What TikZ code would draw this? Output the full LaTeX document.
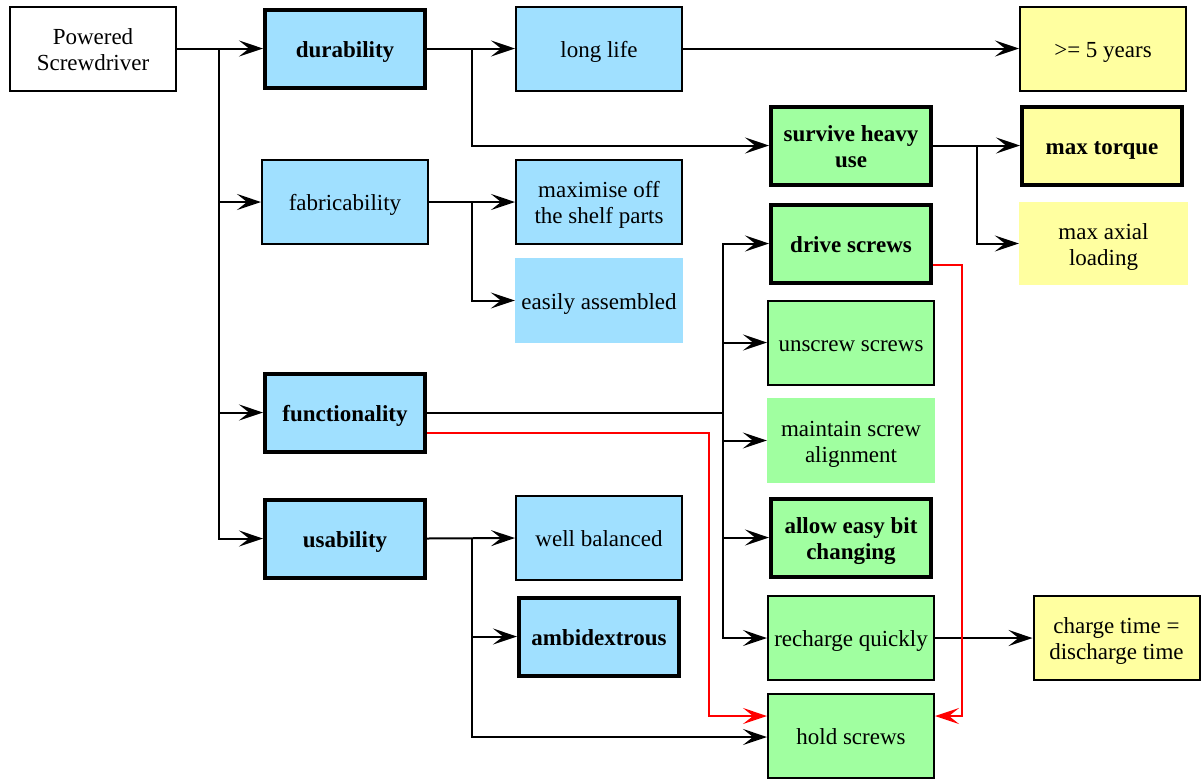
\documentclass[tikz,border=0pt]{standalone}
\usepackage{fontspec}
\setmainfont{Liberation Serif}
\usetikzlibrary{arrows.meta}
\definecolor{cblue}{RGB}{160,224,255}
\definecolor{cgreen}{RGB}{160,255,160}
\definecolor{cyellow}{RGB}{255,255,160}
\newcommand\tx[1]{\raisebox{-3.5pt}[\height][\depth]{\begin{tabular}{@{}c@{}}#1\end{tabular}}}
\begin{document}
\begin{tikzpicture}[x=1pt,y=-1pt,
  base/.style={rectangle, inner sep=2pt, font=\fontsize{23}{26}\selectfont},
  thinbox/.style={base, draw, line width=2pt, minimum width=166pt, minimum height=84pt},
  thickbox/.style={base, draw, line width=4pt, minimum width=160pt, minimum height=78pt, font=\bfseries\fontsize{23}{26}\selectfont},
  nobox/.style={base, minimum width=168pt, minimum height=85pt},
  bl/.style={fill=cblue}, gr/.style={fill=cgreen}, ye/.style={fill=cyellow},
  conn/.style={line width=2pt, -{Stealth[length=24pt,width=16pt,inset=10pt]}},
  link/.style={line width=2pt},
  rconn/.style={conn, red}
]
\useasboundingbox (0,0) rectangle (1201,780);
\node[thinbox, fill=white] (ps) at (93,49) {\tx{Powered\\Screwdriver}};
\node[thickbox, bl] (dur) at (345,48.5) {\tx{durability}};
\node[thinbox, bl] (ll) at (599,48.5) {\tx{long life}};
\node[thinbox, ye] (five) at (1103,48.5) {\tx{>= 5 years}};
\node[thickbox, gr] (shu) at (851,145.5) {\tx{survive heavy\\use}};
\node[thickbox, ye] (mt) at (1102,145.5) {\tx{max torque}};
\node[thinbox, bl] (fab) at (345,202) {\tx{fabricability}};
\node[thinbox, bl] (mosp) at (599,202) {\tx{maximise off\\the shelf parts}};
\node[thickbox, gr] (ds) at (851,243.5) {\tx{drive screws}};
\node[nobox, ye, minimum width=169pt, minimum height=83pt] (mal) at (1103.5,243.5) {\tx{max axial\\loading}};
\node[nobox, bl] (ea) at (599,300.5) {\tx{easily assembled}};
\node[thinbox, gr] (us) at (851,342.5) {\tx{unscrew screws}};
\node[thickbox, bl] (fun) at (345,412.5) {\tx{functionality}};
\node[nobox, gr] (msa) at (851,440.5) {\tx{maintain screw\\alignment}};
\node[thickbox, bl] (usa) at (345,538.5) {\tx{usability}};
\node[thinbox, bl] (wb) at (599,538) {\tx{well balanced}};
\node[thickbox, gr] (aebc) at (851,537.5) {\tx{allow easy bit\\changing}};
\node[thickbox, bl] (amb) at (599,636.5) {\tx{ambidextrous}};
\node[thinbox, gr] (rq) at (851,638) {\tx{recharge quickly}};
\node[thinbox, ye] (ct) at (1116.5,638) {\tx{charge time =\\discharge time}};
\node[thinbox, gr] (hs) at (851,736) {\tx{hold screws}};
% root
\coordinate (j1) at (219,48.5);
\draw[conn] (ps.east |- dur) -- (dur.west);
\draw[conn] (j1) |- (fab.west);
\draw[conn] (j1) |- (fun.west);
\draw[conn] (j1) |- (usa.west);
% durability
\coordinate (dj) at (472,48.5);
\draw[conn] (dur.east) -- (ll.west);
\draw[conn] (dj) |- (shu.west);
\draw[conn] (ll.east) -- (five.west);
% survive heavy use
\coordinate (sj) at (977,145.5);
\draw[conn] (shu.east) -- (mt.west);
\draw[conn] (sj) |- (mal.west);
% fabricability
\coordinate (fbj) at (472,202);
\draw[conn] (fab.east) -- (mosp.west);
\draw[conn] (fbj) |- (ea.west);
% functionality
\coordinate (fj) at (723,412.5);
\draw[link] (fun.east) -- (fj);
\draw[conn] (fj) |- (ds.west);
\draw[conn] (fj) |- (us.west);
\draw[conn] (fj) |- (msa.west);
\draw[conn] (fj) |- (aebc.west);
\draw[conn] (fj) |- (rq.west);
% usability
\coordinate (uj) at (472,538.5);
\draw[conn] (usa.east) -- (wb.west);
\draw[conn] (uj) |- (amb.west);
\draw[conn] (uj) |- ([yshift=-1pt]hs.west);
% recharge
\draw[conn] (rq.east) -- (ct.west);
% red
\coordinate (rj1) at (709,716);
\coordinate (rj2) at (962,716);
\draw[rconn] ([yshift=-20.5pt]fun.east) -| (rj1) -- ([yshift=20pt]hs.west);
\draw[rconn] ([yshift=-21.5pt]ds.east) -| (rj2) -- ([yshift=20pt]hs.east);
\end{tikzpicture}
\end{document}
